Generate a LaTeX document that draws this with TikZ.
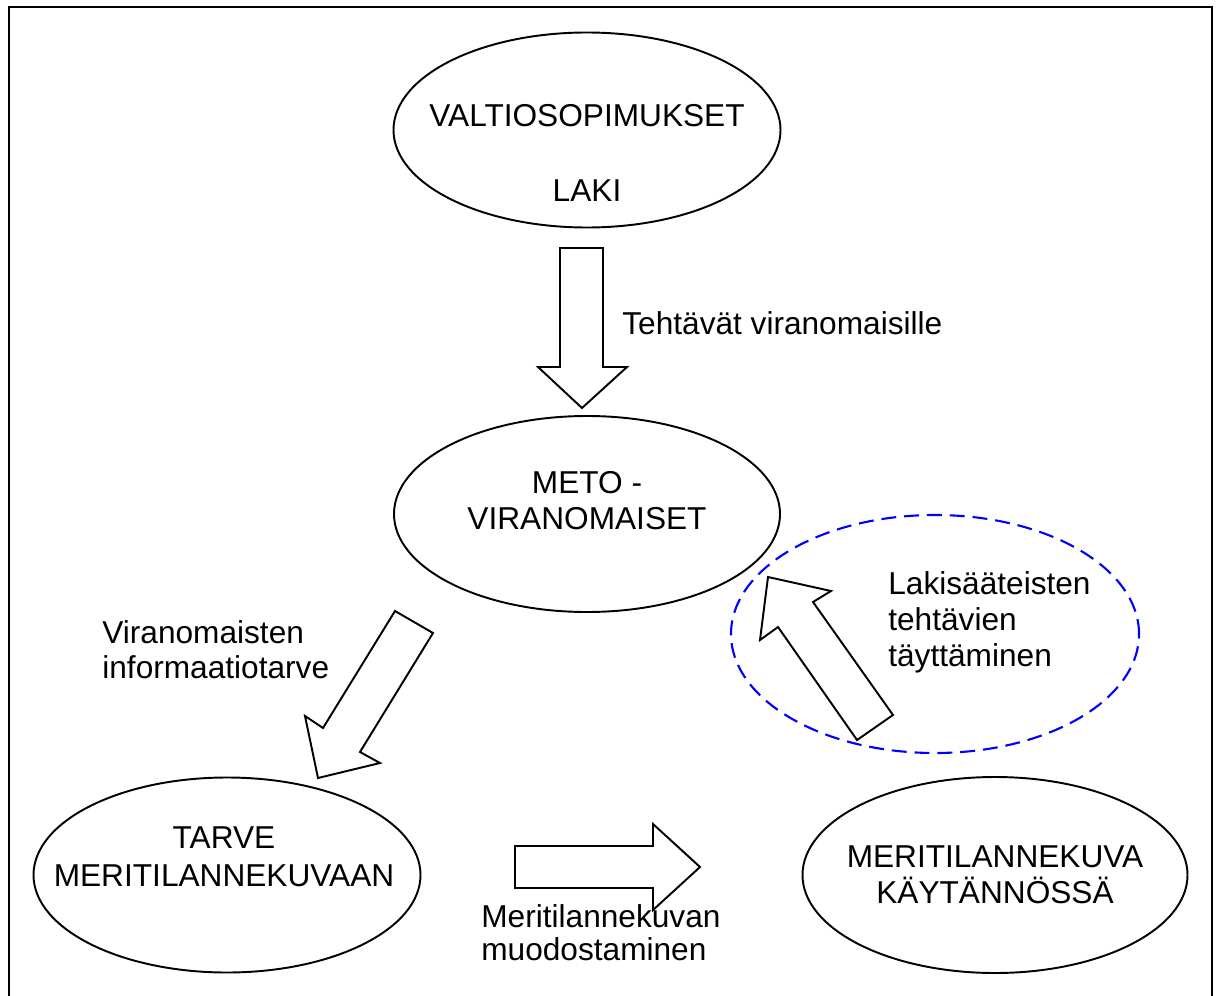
\documentclass[tikz,border=0pt]{standalone}
\usepackage{fontspec}
\setmainfont{Liberation Sans}
\usetikzlibrary{shapes.geometric}
\begin{document}
\begin{tikzpicture}[x=0.2mm,y=-0.2mm,
  txt/.style={font=\fontsize{18}{20.4}\selectfont, inner sep=0pt},
  ctxt/.style={txt, align=center, anchor=base},
  ltxt/.style={txt, align=left, anchor=base west},
  ell/.style={draw, ellipse, line width=1.1pt, inner sep=0pt},
  blk/.style={draw, line width=1.1pt, line join=miter},
  frame/.style={draw, line width=1.5pt},
  dash ell/.style={draw=blue, ellipse, line width=1.2pt, dash pattern=on 8.5pt off 4.5pt, inner sep=0pt}
]
\useasboundingbox (0,0) rectangle (1220,996);
\draw[frame] (9,996) -- (9,7) -- (1212,7) -- (1212,996);

% ellipses
\node[ell, minimum width=77.4mm, minimum height=39mm] (e1) at (587,130) {};
\node[ell, minimum width=77.2mm, minimum height=39.2mm] (e2) at (587,514) {};
\node[ell, minimum width=77.4mm, minimum height=39mm] (e3) at (227,875) {};
\node[ell, minimum width=77mm, minimum height=39.2mm] (e4) at (995,875) {};
\node[dash ell, minimum width=81.6mm, minimum height=47.6mm] (d1) at (935,634) {};

% texts in ellipses (base anchor = baseline of last line)
\node[ctxt] (t1a) at (587,127) {VALTIOSOPIMUKSET};
\node[ctxt] (t1b) at (587,202) {LAKI};
\node[ctxt] (t2) at (587,529) {METO -\\VIRANOMAISET};
\node[ctxt, font=\fontsize{18}{21.5}\selectfont] (t3) at (224,886) {TARVE\\MERITILANNEKUVAAN};
\node[ctxt] (t4) at (995,903) {MERITILANNEKUVA\\KÄYTÄNNÖSSÄ};

% labels
\node[ltxt] (l1) at (622,334) {Tehtävät viranomaisille};
\node[ltxt, font=\fontsize{18}{19.8}\selectfont] (l2) at (102,678) {Viranomaisten\\informaatiotarve};
\node[ltxt, font=\fontsize{18}{20.4}\selectfont] (l3) at (888,666) {Lakisääteisten\\tehtävien\\täyttäminen};
\node[ltxt, font=\fontsize{18}{18.7}\selectfont] (l4) at (481,960) {Meritilannekuvan\\muodostaminen};

% block arrows
\draw[blk] (560,248) -- (603,248) -- (603,367) -- (627,367) -- (582,408) -- (538,367) -- (560,367) -- cycle;
\draw[blk] (395,611) -- (433,633) -- (360,752) -- (380,763) -- (318,778) -- (305,716) -- (323,728) -- cycle;
\draw[blk] (768,577) -- (831,591) -- (813,602) -- (893,715) -- (857,740) -- (778,627) -- (760,640) -- cycle;
\draw[blk] (515,846) -- (653,846) -- (653,824) -- (700,867) -- (653,910) -- (653,888) -- (515,888) -- cycle;
\end{tikzpicture}
\end{document}
